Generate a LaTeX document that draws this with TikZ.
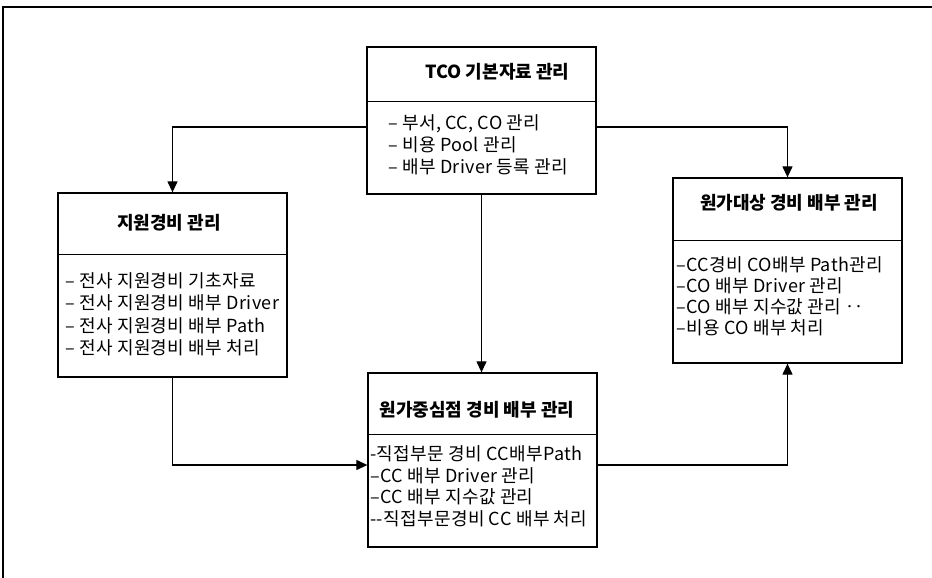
\documentclass[tikz,border=0pt]{standalone}
\usepackage{fontspec}
\setmainfont{Noto Sans CJK KR}
\newfontfamily\bodyfont[LetterSpace=2]{Noto Sans CJK KR}
\usetikzlibrary{arrows.meta}
\tikzset{
  box/.style={draw, line width=1.3pt, rectangle, inner sep=0pt},
  sep/.style={line width=1pt},
  ttl/.style={font=\fontsize{18}{21}\selectfont\bfseries, inner sep=0pt},
  txt/.style={font=\bodyfont\fontsize{18}{21}\selectfont, inner sep=0pt, anchor=west, text height=13pt, text depth=4pt},
  arr/.style={line width=1.2pt, -{Triangle[length=11pt,width=10pt]}},
}
\begin{document}
\begin{tikzpicture}[x=1pt,y=-1pt]
\useasboundingbox (0,0) rectangle (932,578);
% outer frame
\draw[line width=1.3pt] (3,578) -- (3,7) -- (932,7);
% boxes
\node[box, minimum width=229pt, minimum height=147pt] (tco) at (481.5,120.5) {};
\node[box, minimum width=229pt, minimum height=184pt] (sup) at (172.5,285) {};
\node[box, minimum width=229pt, minimum height=185pt] (obj) at (787.5,270.5) {};
\node[box, minimum width=229pt, minimum height=174pt] (cen) at (482.5,460) {};
% dividers
\draw[sep] (tco.west |- 0,101) -- (tco.east |- 0,101);
\draw[sep] (sup.west |- 0,254) -- (sup.east |- 0,254);
\draw[sep] (obj.west |- 0,240) -- (obj.east |- 0,240);
\draw[sep] (cen.west |- 0,434) -- (cen.east |- 0,434);
% titles
\node[ttl] (tcot) at (497.5,72) {TCO 기본자료 관리};
\node[ttl] (supt) at (169,223) {지원경비 관리};
\node[ttl] (objt) at (789,203) {원가대상 경비 배부 관리};
\node[ttl] (cent) at (477,410) {원가중심점 경비 배부 관리};
% body texts
\node[txt] (tco1) at (388,125) {– 부서, CC, CO 관리};
\node[txt] (tco2) at (388,147) {– 비용 Pool 관리};
\node[txt] (tco3) at (388,169) {– 배부 Driver 등록 관리};
\node[txt] (sup1) at (65,283) {– 전사 지원경비 기초자료};
\node[txt] (sup2) at (65,305) {– 전사 지원경비 배부 Driver};
\node[txt] (sup3) at (65,328) {– 전사 지원경비 배부 Path};
\node[txt] (sup4) at (65,350) {– 전사 지원경비 배부 처리};
\node[txt] (obj1) at (676,267) {–CC경비 CO배부 Path관리};
\node[txt] (obj2) at (676,288) {–CO 배부 Driver 관리};
\node[txt] (obj3) at (676,309) {–CO 배부 지수값 관리 ‥};
\node[txt] (obj4) at (676,330) {–비용 CO 배부 처리};
\node[txt] (cen1) at (370,456) {-직접부문 경비 CC배부Path};
\node[txt] (cen2) at (370,478) {–CC 배부 Driver 관리};
\node[txt] (cen3) at (370,499) {–CC 배부 지수값 관리};
\node[txt] (cen4) at (370,521) {-{}-직접부문경비 CC 배부 처리};
% connectors
\draw[arr] (tco.west |- 0,127) -| (sup.north);
\draw[arr] (tco.east |- 0,127) -| (obj.north);
\draw[arr] (tco.south) -- (tco.south |- cen.north);
\draw[arr] (sup.south) |- (cen.west |- 0,465);
\draw[arr] (cen.east |- 0,465) -| (obj.south);
\end{tikzpicture}
\end{document}
